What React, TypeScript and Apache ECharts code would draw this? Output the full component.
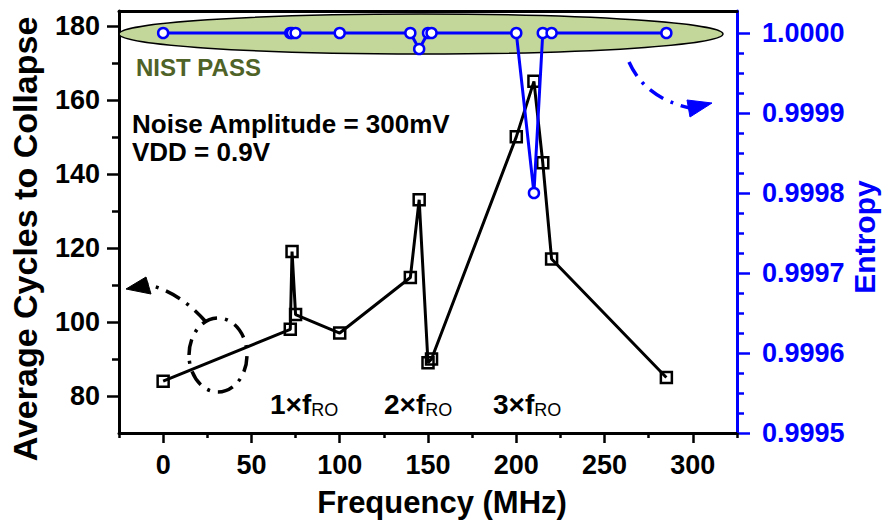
import React, { useEffect, useRef } from "react";
import * as echarts from "echarts";

const frequencies = [0, 72, 73, 75, 100, 140, 145, 150, 152, 200, 210, 215, 220, 285];
const avgCycles = [84, 98, 119, 102, 97, 112, 133, 89, 90, 150, 165, 143, 117, 85];
const entropy = [1.0, 1.0, 1.0, 1.0, 1.0, 1.0, 0.99998, 1.0, 1.0, 1.0, 0.9998, 1.0, 1.0, 1.0];

const xMajorTicks = [0, 50, 100, 150, 200, 250, 300];
const xMinorTicks = [-25, 25, 75, 125, 175, 225, 275, 325];
const yLeftMajorTicks = [80, 100, 120, 140, 160, 180];
const yLeftMinorTicks = [90, 110, 130, 150, 170];
const yRightMajorTicks = [0.9995, 0.9996, 0.9997, 0.9998, 0.9999, 1.0];
const yRightMinorTicks = [
  0.999525, 0.99955, 0.999575, 0.999625, 0.99965, 0.999675, 0.999725, 0.99975,
  0.999775, 0.999825, 0.99985, 0.999875, 0.999925, 0.99995, 0.999975,
];
const harmonicLabels = ["1", "2", "3"];

const FONT = "'Liberation Sans', Arial, Helvetica, sans-serif";
const BLUE = "#0000ff";
const DASH_DOT = [16, 8, 3, 8];

export default function App() {
  const ref = useRef<HTMLDivElement>(null);

  useEffect(() => {
    if (!ref.current) return;
    const chart = echarts.init(ref.current, undefined, { renderer: "svg" });

    const xRange = { min: -25, max: 325 };
    const yLRange = { min: 70, max: 184 };
    const yRRange = { min: 0.9995, max: 1.0000275 };

    const tickLabelStyle = {
      fontFamily: FONT,
      fontWeight: "bold" as const,
      fontSize: 27,
      color: "#000",
    };

    const option: any = {
      animation: false,
      grid: { left: 119, right: 146, top: 11, bottom: 90, containLabel: false },
      xAxis: [
        {
          type: "value",
          ...xRange,
          position: "bottom",
          axisLine: { show: true, onZero: false, lineStyle: { color: "#000", width: 3 } },
          axisTick: { show: true, customValues: xMinorTicks, length: 5, lineStyle: { width: 2.5, color: "#000" } },
          axisLabel: { show: false },
          splitLine: { show: false },
        },
        {
          type: "value",
          ...xRange,
          position: "bottom",
          axisLine: { show: false, onZero: false },
          axisTick: { show: true, customValues: xMajorTicks, length: 10, lineStyle: { width: 2.5, color: "#000" } },
          axisLabel: { show: true, customValues: xMajorTicks, margin: 18, ...tickLabelStyle },
          splitLine: { show: false },
        },
        {
          type: "value",
          ...xRange,
          position: "top",
          axisLine: { show: true, onZero: false, lineStyle: { color: "#000", width: 3 } },
          axisTick: { show: false },
          axisLabel: { show: false },
          splitLine: { show: false },
        },
      ],
      yAxis: [
        {
          type: "value",
          ...yLRange,
          position: "left",
          axisLine: { show: true, onZero: false, lineStyle: { color: "#000", width: 3 } },
          axisTick: { show: true, customValues: yLeftMinorTicks, length: 7, lineStyle: { width: 2.5, color: "#000" } },
          axisLabel: { show: false },
          splitLine: { show: false },
        },
        {
          type: "value",
          ...yLRange,
          position: "left",
          axisLine: { show: false, onZero: false },
          axisTick: { show: true, customValues: yLeftMajorTicks, length: 12, lineStyle: { width: 2.5, color: "#000" } },
          axisLabel: { show: true, customValues: yLeftMajorTicks, margin: 19, ...tickLabelStyle },
          splitLine: { show: false },
        },
        {
          type: "value",
          ...yRRange,
          position: "right",
          axisLine: { show: true, onZero: false, lineStyle: { color: BLUE, width: 3 } },
          axisTick: { show: true, customValues: yRightMajorTicks, length: 13, lineStyle: { width: 2.5, color: BLUE } },
          axisLabel: {
            show: true,
            customValues: yRightMajorTicks,
            margin: 25,
            ...tickLabelStyle,
            color: BLUE,
            formatter: (v: number) => v.toFixed(4),
          },
          splitLine: { show: false },
        },
        {
          type: "value",
          ...yRRange,
          position: "right",
          axisLine: { show: false, onZero: false },
          axisTick: { show: true, customValues: yRightMinorTicks, length: 7, lineStyle: { width: 2.5, color: BLUE } },
          axisLabel: { show: false },
          splitLine: { show: false },
        },
      ],
      series: [
        {
          name: "Average Cycles to Collapse",
          type: "line",
          xAxisIndex: 0,
          yAxisIndex: 0,
          data: frequencies.map((f, i) => [f, avgCycles[i]]),
          symbol: "rect",
          symbolSize: 11,
          lineStyle: { color: "#000", width: 3 },
          itemStyle: { color: "rgba(0,0,0,0)", borderColor: "#000", borderWidth: 2.5 },
          z: 3,
        },
        {
          name: "Entropy",
          type: "line",
          xAxisIndex: 0,
          yAxisIndex: 2,
          data: frequencies.map((f, i) => [f, entropy[i]]),
          symbol: "circle",
          symbolSize: 10,
          lineStyle: { color: BLUE, width: 3 },
          itemStyle: { color: "#fff", borderColor: BLUE, borderWidth: 2.5 },
          z: 4,
        },
      ],
      graphic: [
        {
          type: "ellipse",
          z: 1,
          shape: { cx: 421, cy: 34, rx: 302, ry: 20 },
          style: { fill: "#c4d79b", stroke: "#000", lineWidth: 1.5 },
        },
        {
          type: "text",
          z: 5,
          x: 136,
          y: 67,
          style: {
            text: "NIST PASS",
            fill: "#4f6228",
            font: `bold 24px ${FONT}`,
            textAlign: "left",
            textVerticalAlign: "middle",
          },
        },
        {
          type: "text",
          z: 5,
          x: 132,
          y: 124,
          style: {
            text: "Noise Amplitude = 300mV",
            fill: "#000",
            font: `bold 26px ${FONT}`,
            textAlign: "left",
            textVerticalAlign: "middle",
          },
        },
        {
          type: "text",
          z: 5,
          x: 132,
          y: 152,
          style: {
            text: "VDD = 0.9V",
            fill: "#000",
            font: `bold 26px ${FONT}`,
            textAlign: "left",
            textVerticalAlign: "middle",
          },
        },
        ...harmonicLabels.map((h, i) => ({
          type: "text",
          z: 5,
          x: [270, 384, 493][i],
          y: 389,
          style: {
            text: `{m|${h}×f}{s|RO}`,
            textAlign: "left",
            textVerticalAlign: "top",
            rich: {
              m: { fontFamily: FONT, fontWeight: "bold", fontSize: 28, lineHeight: 30, fill: "#000", color: "#000" },
              s: {
                fontFamily: FONT,
                fontWeight: "normal",
                fontSize: 18,
                lineHeight: 18,
                verticalAlign: "bottom",
                fill: "#000",
                color: "#000",
              },
            },
          },
        })),
        {
          type: "text",
          z: 5,
          x: 25,
          y: 239,
          rotation: Math.PI / 2,
          style: {
            text: "Average Cycles to Collapse",
            fill: "#000",
            font: `bold 34px ${FONT}`,
            textAlign: "center",
            textVerticalAlign: "middle",
          },
        },
        {
          type: "text",
          z: 5,
          x: 864,
          y: 237,
          rotation: Math.PI / 2,
          style: {
            text: "Entropy",
            fill: BLUE,
            font: `bold 30px ${FONT}`,
            textAlign: "center",
            textVerticalAlign: "middle",
          },
        },
        {
          type: "text",
          z: 5,
          x: 442,
          y: 502,
          style: {
            text: "Frequency (MHz)",
            fill: "#000",
            font: `bold 31px ${FONT}`,
            textAlign: "center",
            textVerticalAlign: "middle",
          },
        },
        // black dash-dot loop and arrow
        {
          type: "ellipse",
          z: 5,
          shape: { cx: 218, cy: 355, rx: 29, ry: 37 },
          style: { fill: "none", stroke: "#000", lineWidth: 3.5, lineDash: DASH_DOT },
        },
        {
          type: "bezierCurve",
          z: 5,
          shape: { x1: 206, y1: 322, cpx1: 180, cpy1: 292, x2: 146, y2: 284 },
          style: { fill: "none", stroke: "#000", lineWidth: 3.5, lineDash: DASH_DOT },
        },
        {
          type: "polygon",
          z: 5,
          shape: { points: [[126, 289], [146, 277], [151, 294]] },
          style: { fill: "#000", stroke: "#000", lineWidth: 1 },
        },
        // blue dash-dot arrow
        {
          type: "bezierCurve",
          z: 5,
          shape: { x1: 629, y1: 62, cpx1: 645, cpy1: 98, x2: 690, y2: 108 },
          style: { fill: "none", stroke: BLUE, lineWidth: 3.5, lineDash: DASH_DOT },
        },
        {
          type: "polygon",
          z: 5,
          shape: { points: [[687, 100], [712, 103], [690, 117]] },
          style: { fill: BLUE, stroke: BLUE, lineWidth: 1 },
        },
      ],
    };

    chart.setOption(option);
    return () => chart.dispose();
  }, []);

  return (
    <div
      ref={ref}
      style={{ position: "fixed", left: 0, top: 0, width: 883, height: 523, background: "#fff" }}
    />
  );
}
